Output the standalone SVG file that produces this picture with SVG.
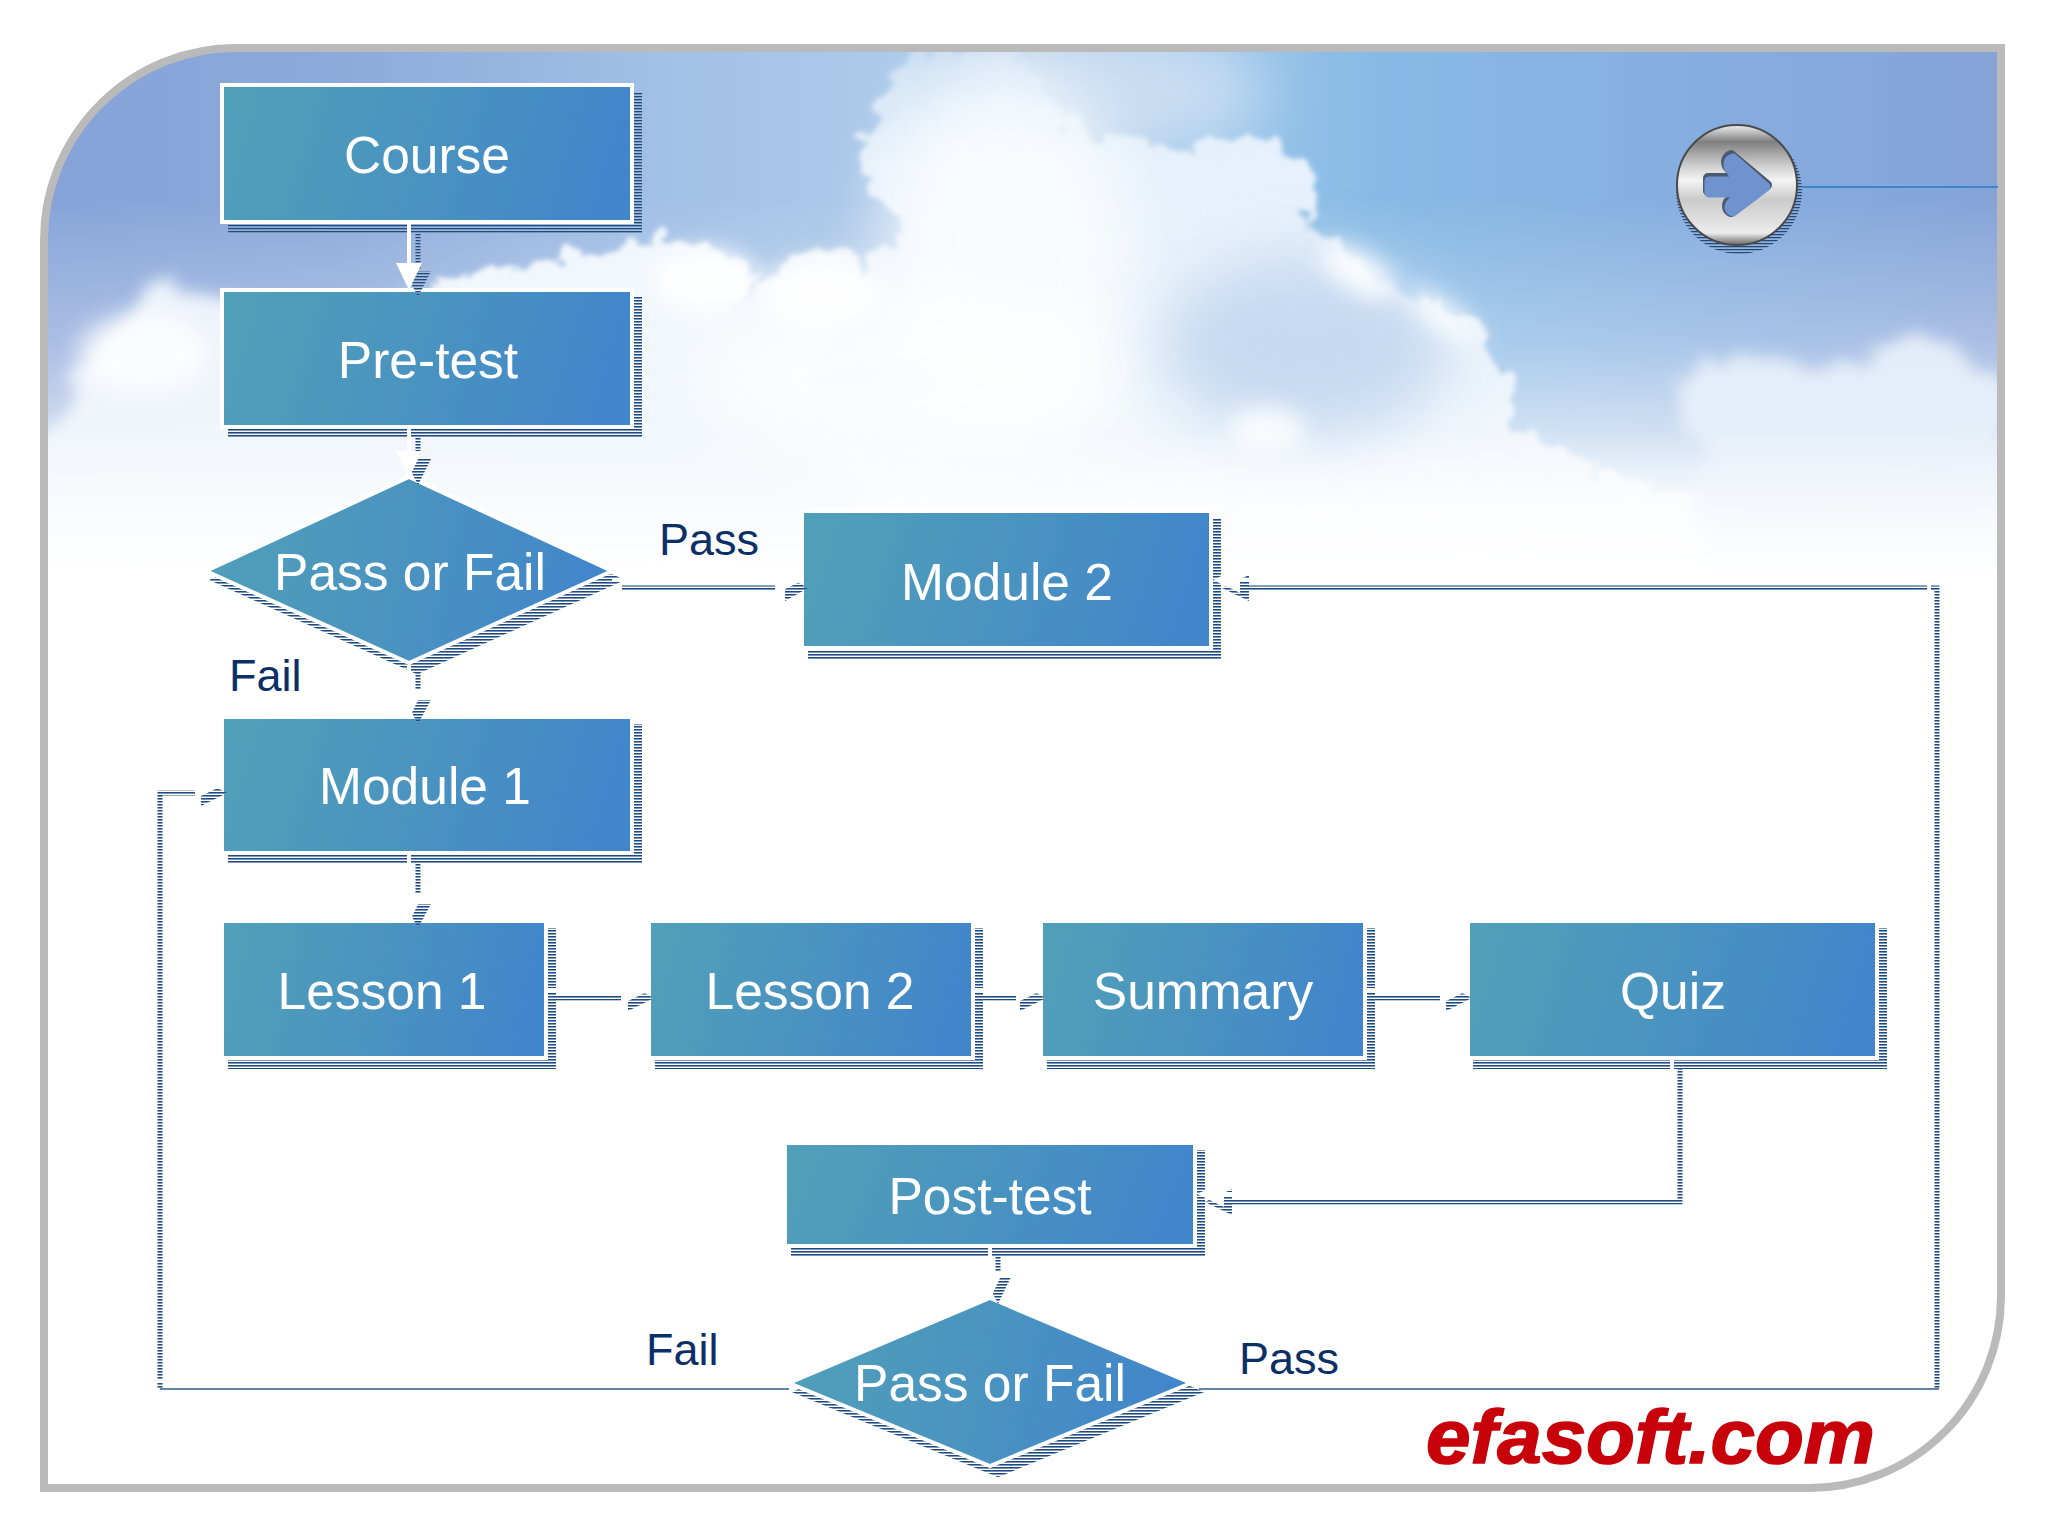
<svg xmlns="http://www.w3.org/2000/svg" width="2048" height="1536" viewBox="0 0 2048 1536">
<style>
.sh{fill:url(#hatch);stroke:url(#hatch);stroke-width:4}
.box{fill:url(#nodeFill);stroke:#fff;stroke-width:4}
.t{font-family:"Liberation Sans",Arial,sans-serif;font-size:51.5px;fill:#fff;text-anchor:middle}
.lab{font-family:"Liberation Sans",Arial,sans-serif;font-size:45px;fill:#0b3068}
.ls{fill:none;stroke:url(#hatch);stroke-width:5}
.lt{fill:none;stroke:#2b5c8c;stroke-width:1.6}
.lw{fill:none;stroke:#fff;stroke-width:4;marker-end:url(#wa)}
.ah{fill:url(#hatch)}
</style>
<defs>
<pattern id="hatch" width="4" height="3" patternUnits="userSpaceOnUse">
<rect width="4" height="1" fill="#1d4a80"/><rect y="1" width="4" height="1" fill="#7d94b2"/>
</pattern>
<linearGradient id="nodeFill" x1="0" y1="0" x2="1" y2="0.1">
<stop offset="0" stop-color="#51a0b9"/><stop offset="0.5" stop-color="#4a94bf"/><stop offset="1" stop-color="#4186cb"/>
</linearGradient>
<linearGradient id="sky" gradientUnits="userSpaceOnUse" x1="40" y1="0" x2="2000" y2="0">
<stop offset="0" stop-color="#86a3d8"/><stop offset="0.15" stop-color="#8ca9db"/><stop offset="0.32" stop-color="#a3c0e6"/><stop offset="0.5" stop-color="#b4d0ec"/><stop offset="0.68" stop-color="#87bbe6"/><stop offset="0.85" stop-color="#86addf"/><stop offset="1" stop-color="#86a3d8"/>
</linearGradient>
<linearGradient id="fade" gradientUnits="userSpaceOnUse" x1="0" y1="200" x2="0" y2="610">
<stop offset="0" stop-color="#fff" stop-opacity="0"/><stop offset="0.35" stop-color="#fff" stop-opacity=".3"/><stop offset="0.7" stop-color="#fff" stop-opacity=".8"/><stop offset="1" stop-color="#fff"/>
</linearGradient>
<linearGradient id="fadeTop" gradientUnits="userSpaceOnUse" x1="0" y1="430" x2="0" y2="575">
<stop offset="0" stop-color="#fff" stop-opacity="0"/><stop offset="1" stop-color="#fff"/>
</linearGradient>
<linearGradient id="mainFill" gradientUnits="userSpaceOnUse" x1="0" y1="36" x2="0" y2="460">
<stop offset="0" stop-color="#c9def3"/><stop offset="0.2" stop-color="#e6f1fb"/><stop offset="0.6" stop-color="#edf4fb"/><stop offset="1" stop-color="#fff"/>
</linearGradient>
<linearGradient id="metal" x1="0" y1="0" x2="0" y2="1">
<stop offset="0" stop-color="#f0f0f0"/><stop offset="0.14" stop-color="#7f7f7f"/><stop offset="0.34" stop-color="#cfcfcf"/><stop offset="0.46" stop-color="#f4f4f4"/><stop offset="0.62" stop-color="#cbcbcb"/><stop offset="0.9" stop-color="#ececec"/><stop offset="1" stop-color="#666"/>
</linearGradient>
<clipPath id="frameClip"><path d="M44,240 A192,192 0 0 1 236,48 H2001 V1296 A192,192 0 0 1 1809,1488 H44 Z"/></clipPath>
<filter id="rough" filterUnits="userSpaceOnUse" x="0" y="0" width="2048" height="700">
<feTurbulence type="fractalNoise" baseFrequency="0.05" numOctaves="4" seed="4"/>
<feDisplacementMap in="SourceGraphic" scale="34" xChannelSelector="R" yChannelSelector="G"/>
<feGaussianBlur stdDeviation="2"/>
</filter>
<filter id="rough2" filterUnits="userSpaceOnUse" x="0" y="0" width="2048" height="700">
<feTurbulence type="fractalNoise" baseFrequency="0.04" numOctaves="3" seed="9"/>
<feDisplacementMap in="SourceGraphic" scale="30" xChannelSelector="R" yChannelSelector="G"/>
<feGaussianBlur stdDeviation="6"/>
</filter>
<filter id="soft" filterUnits="userSpaceOnUse" x="0" y="0" width="2048" height="700"><feGaussianBlur stdDeviation="24"/></filter>
<filter id="soft2" filterUnits="userSpaceOnUse" x="0" y="0" width="2048" height="700"><feGaussianBlur stdDeviation="9"/></filter>
<marker id="wa" markerUnits="userSpaceOnUse" markerWidth="27" markerHeight="26" refX="17" refY="13" orient="auto"><path d="M0,0 L27,13 L0,26 Z" fill="#fff"/></marker>
</defs>

<rect width="2048" height="1536" fill="#fff"/>
<g id="background" clip-path="url(#frameClip)">
<rect x="40" y="44" width="1965" height="570" fill="url(#sky)"/>
<rect x="40" y="200" width="1965" height="420" fill="url(#fade)"/>
<g transform="scale(1.306)">
<ellipse cx="860" cy="70" rx="110" ry="50" fill="#d3e3f4" opacity=".8" filter="url(#soft)"/>
<path filter="url(#rough2)" fill="#f3f8fd" opacity=".93" d="M30,340 C50,310 65,295 72,268 C85,240 105,240 125,220 C150,225 190,232 210,232 C260,240 300,235 340,225 L400,300 L400,430 L30,430 Z"/>
<path filter="url(#rough)" fill="#f1f7fc" d="M330,215 C400,205 440,192 500,183 C530,188 560,192 578,207 C570,222 565,227 565,234 C590,202 620,192 650,187 L720,430 L330,430 Z"/>
<path filter="url(#rough)" fill="url(#mainFill)" d="M700,36 C680,60 665,90 657,118 C660,145 690,160 690,178 C670,195 640,230 620,300 L700,460 L1400,460 L1320,385 C1290,375 1260,365 1220,360 C1210,345 1180,340 1155,325 C1160,310 1165,290 1140,265 C1130,250 1110,235 1075,222 C1060,215 1040,190 1005,182 C1000,170 1008,150 1005,130 C990,110 950,105 905,115 C880,105 860,115 830,100 C810,90 800,70 780,36 Z"/>
<path filter="url(#rough2)" fill="#e9f1fa" opacity=".9" d="M1300,470 L1300,340 C1285,325 1280,305 1285,290 C1300,275 1340,272 1370,278 C1400,290 1440,272 1470,255 C1490,260 1500,275 1535,290 L1535,470 Z"/>
<ellipse cx="770" cy="190" rx="95" ry="140" fill="#fff" opacity=".7" filter="url(#soft)"/>
<ellipse cx="700" cy="290" rx="170" ry="70" fill="#fff" opacity=".7" filter="url(#soft)"/>
<ellipse cx="1000" cy="265" rx="110" ry="70" fill="#bfd5f0" opacity=".85" filter="url(#soft)"/>
<ellipse cx="1040" cy="208" rx="32" ry="14" fill="#fff" transform="rotate(30 1040 208)" filter="url(#soft2)" opacity=".95"/>
<ellipse cx="1105" cy="242" rx="32" ry="10" fill="#fff" transform="rotate(35 1105 242)" filter="url(#soft2)" opacity=".9"/>
<ellipse cx="970" cy="330" rx="30" ry="18" fill="#fff" filter="url(#soft2)" opacity=".85"/>
<ellipse cx="540" cy="215" rx="40" ry="25" fill="#fff" filter="url(#soft2)" opacity=".9"/>
<ellipse cx="630" cy="225" rx="45" ry="25" fill="#fff" filter="url(#soft2)" opacity=".9"/>
<ellipse cx="110" cy="270" rx="50" ry="30" fill="#fff" filter="url(#soft2)" opacity=".8"/>
</g>
<rect x="40" y="430" width="1965" height="220" fill="url(#fadeTop)"/>
</g>
<path id="frame" d="M44,240 A192,192 0 0 1 236,48 H2001 V1296 A192,192 0 0 1 1809,1488 H44 Z" fill="none" stroke="#bababa" stroke-width="8"/>

<g id="node-course"><rect class="sh" x="230" y="94" width="410" height="137"/><rect class="box" x="222" y="85" width="410" height="137"/><text class="t" x="427" y="173">Course</text></g>
<g id="node-pretest"><rect class="sh" x="230" y="299" width="410" height="137"/><rect class="box" x="222" y="290" width="410" height="137"/><text class="t" x="428" y="378">Pre-test</text></g>
<g id="node-decision1"><polygon class="sh" points="417,486 620,580 417,672 214,580"/><polygon class="box" points="409,477 612,571 409,663 206,571"/><text class="t" x="410" y="590">Pass or Fail</text></g>
<g id="node-module2"><rect class="sh" x="810" y="520" width="409" height="137"/><rect class="box" x="802" y="511" width="409" height="137"/><text class="t" x="1007" y="600">Module 2</text></g>
<g id="node-module1"><rect class="sh" x="230" y="726" width="410" height="136"/><rect class="box" x="222" y="717" width="410" height="136"/><text class="t" x="425" y="804">Module 1</text></g>
<g id="node-lesson1"><rect class="sh" x="230" y="930" width="324" height="137"/><rect class="box" x="222" y="921" width="324" height="137"/><text class="t" x="382" y="1009">Lesson 1</text></g>
<g id="node-lesson2"><rect class="sh" x="657" y="930" width="324" height="137"/><rect class="box" x="649" y="921" width="324" height="137"/><text class="t" x="810" y="1009">Lesson 2</text></g>
<g id="node-summary"><rect class="sh" x="1049" y="930" width="324" height="137"/><rect class="box" x="1041" y="921" width="324" height="137"/><text class="t" x="1203" y="1009">Summary</text></g>
<g id="node-quiz"><rect class="sh" x="1475" y="930" width="410" height="137"/><rect class="box" x="1468" y="921" width="409" height="137"/><text class="t" x="1673" y="1009">Quiz</text></g>
<g id="node-posttest"><rect class="sh" x="793" y="1152" width="410" height="103"/><rect class="box" x="785" y="1143" width="410" height="103"/><text class="t" x="990" y="1214">Post-test</text></g>
<g id="node-decision2"><polygon class="sh" points="998,1307 1199,1392 998,1475 797,1392"/><polygon class="box" points="990,1298 1191,1383 990,1466 789,1383"/><text class="t" x="990" y="1401">Pass or Fail</text></g>
<g id="nav-button">
<circle cx="1739" cy="191" r="63" fill="url(#hatch)"/>
<circle cx="1737" cy="185" r="60" fill="url(#metal)" stroke="#4a4a4a" stroke-width="2"/>
<path d="M1709,180 H1738 L1728,168 Q1725,160 1732,157 L1768,187 L1732,214 Q1726,211 1729,204 L1739,193 H1709 Z" fill="#4a5a70" stroke="#4a5a70" stroke-width="10" stroke-linejoin="round" transform="translate(-1 -2)"/>
<path d="M1709,181 H1739 L1729,169 Q1726,161 1733,158 L1766,187 L1733,212 Q1727,210 1730,204 L1740,193 H1709 Z" fill="#6f93cf" stroke="#6f93cf" stroke-width="9" stroke-linejoin="round"/>
<path d="M1802,187 H1998" fill="none" stroke="#3b87cc" stroke-width="1.8"/>
</g>

<g id="connectors">
<path class="ls" d="M418,232 V270"/><polygon class="ah" points="405,271 431,271 418,297"/>
<path class="ls" d="M418,436 V456"/><polygon class="ah" points="405,459 431,459 418,485"/>
<path class="ls" d="M418,672 V689"/><polygon class="ah" points="405,700 431,700 418,724"/>
<path class="ls" d="M418,862 V893"/><polygon class="ah" points="405,904 431,904 418,928"/>
<path class="ls" d="M998,1255 V1273"/><polygon class="ah" points="985,1277 1011,1277 998,1304"/>
<path class="ls" d="M622,588 H775"/><polygon class="ah" points="785,575 785,601 808,588"/>
<path class="ls" d="M556,998 H621"/><polygon class="ah" points="628,985 628,1011 654,998"/>
<path class="ls" d="M983,998 H1016"/><polygon class="ah" points="1020,985 1020,1011 1046,998"/>
<path class="ls" d="M1375,998 H1440"/><polygon class="ah" points="1446,985 1446,1011 1472,998"/>
<path class="ls" d="M1248,588 H1937 V1389"/><polygon class="ah" points="1249,575 1249,601 1222,588"/>
<path class="ls" d="M1680,1068 V1202 H1226"/><polygon class="ah" points="1232,1189 1232,1215 1205,1202"/>
<path class="ls" d="M195,793 H160 V1389"/><polygon class="ah" points="201,780 201,806 227,793"/>
<path class="lt" d="M160,1389 H789"/>
<path class="lt" d="M1199,1389 H1939"/>
<path class="lw" d="M409,224 V280"/>
<path class="lw" d="M409,429 V468"/>
<path class="lw" d="M409,665 V709"/>
<path class="lw" d="M409,855 V913"/>
<path class="lw" d="M990,1248 V1289"/>
<path class="lw" d="M612,580 H794"/>
<path class="lw" d="M546,990 H641"/>
<path class="lw" d="M975,990 H1033"/>
<path class="lw" d="M1367,990 H1459"/>
<path class="lw" d="M1191,1381 H1929 V580 H1223"/>
<path class="lw" d="M1672,1060 V1194 H1207"/>
<path class="lw" d="M789,1381 H152 V785 H214"/>
</g>

<g id="labels">
<text class="lab" x="659" y="555">Pass</text>
<text class="lab" x="229" y="691">Fail</text>
<text class="lab" x="646" y="1365">Fail</text>
<text class="lab" x="1239" y="1374">Pass</text>
<text x="1426" y="1463" textLength="449" lengthAdjust="spacingAndGlyphs" font-family="'Liberation Sans',Arial,sans-serif" font-weight="700" font-style="italic" font-size="76" fill="#c8000a" stroke="#c8000a" stroke-width="1.5">efasoft.com</text>
</g>
</svg>
